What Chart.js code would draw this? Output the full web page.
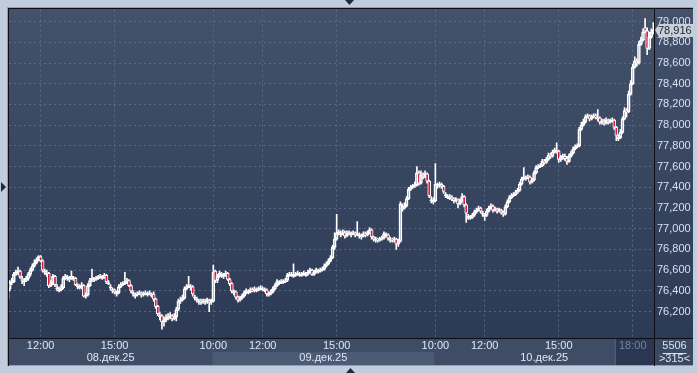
<!DOCTYPE html>
<html>
<head>
<meta charset="utf-8">
<script src="https://cdn.jsdelivr.net/npm/chart.js@4.4.1/dist/chart.umd.min.js"></script>
<style>
  html, body { margin: 0; padding: 0; background: #c1cddc; }
  #wrap { position: relative; width: 697px; height: 373px; }
</style>
</head>
<body>
<div id="wrap"><canvas id="chart" width="697" height="373"></canvas></div>
<script>
// 5-minute candles, 08-10 Dec 2025
const opens = [
  76320,76420,76480,76490,76560,76580,76590,76500,76490,76500,
  76520,76560,76600,76640,76670,76700,76730,76690,76580,76560,
  76570,76450,76470,76540,76420,76400,76410,76430,76520,76520,
  76510,76520,76510,76520,76440,76430,76440,76450,76350,76360,
  76450,76500,76500,76510,76520,76530,76520,76530,76550,76470,
  76430,76400,76410,76370,76380,76440,76460,76470,76480,76500,
  76450,76370,76350,76360,76370,76380,76360,76370,76360,76370,
  76350,76370,76320,76250,76150,76160,76100,76120,76140,76150,
  76160,76130,76150,76220,76300,76310,76330,76420,76440,76430,
  76440,76330,76310,76290,76300,76290,76290,76300,76310,76290,
  76300,76590,76500,76540,76550,76540,76550,76570,76510,76470,
  76380,76390,76340,76310,76330,76350,76380,76380,76390,76410,
  76400,76400,76410,76420,76410,76400,76410,76360,76370,76390,
  76420,76450,76470,76480,76480,76490,76500,76550,76550,76540,
  76550,76560,76550,76550,76560,76550,76560,76580,76600,76560,
  76580,76580,76590,76600,76610,76640,76660,76690,76720,76820,
  76900,76960,76940,76950,76960,76930,76950,76940,76950,76960,
  76940,76930,76920,76930,76950,76940,76960,76990,76920,76890,
  76900,76890,76900,76910,76930,76940,76890,76900,76890,76900,
  76850,76880,77190,77200,77220,77290,77380,77400,77410,77420,
  77540,77440,77520,77500,77530,77460,77270,77260,77270,77410,
  77420,77430,77410,77320,77300,77290,77300,77290,77270,77280,
  77240,77270,77310,77230,77110,77100,77110,77130,77160,77180,
  77200,77140,77120,77130,77170,77200,77220,77180,77190,77170,
  77180,77160,77140,77210,77260,77300,77320,77330,77350,77370,
  77430,77480,77480,77490,77500,77450,77470,77540,77590,77600,
  77610,77650,77640,77670,77710,77700,77740,77740,77750,77670,
  77690,77700,77680,77650,77700,77730,77770,77790,77800,77960,
  78000,78030,78080,78090,78060,78080,78090,78060,78070,78030,
  78040,78020,78050,78030,78040,78050,77980,77870,77880,77930,
  78060,78140,78130,78300,78400,78560,78620,78600,78780,78820,
  78940,78910,78740,78850,78900
];
const highs = [
  76440,76500,76520,76580,76600,76630,76600,76540,76520,76540,
  76580,76620,76660,76700,76720,76740,76740,76700,76610,76600,
  76580,76500,76560,76550,76460,76440,76460,76540,76560,76550,
  76540,76590,76540,76530,76470,76460,76480,76460,76380,76470,
  76520,76610,76530,76540,76550,76560,76550,76570,76560,76500,
  76460,76430,76420,76400,76460,76480,76490,76580,76520,76510,
  76460,76400,76380,76390,76400,76390,76390,76400,76390,76400,
  76380,76390,76330,76260,76190,76170,76150,76170,76180,76190,
  76170,76180,76240,76320,76340,76360,76440,76460,76540,76460,
  76450,76360,76340,76320,76320,76320,76320,76330,76320,76320,
  76650,76600,76560,76590,76580,76570,76590,76580,76520,76480,
  76410,76400,76350,76350,76370,76400,76420,76410,76430,76430,
  76440,76430,76440,76450,76440,76430,76420,76390,76410,76440,
  76470,76510,76500,76510,76510,76520,76570,76580,76580,76660,
  76580,76590,76580,76580,76590,76580,76600,76620,76610,76600,
  76620,76610,76620,76630,76660,76680,76710,76740,76840,76960,
  77140,76990,76980,76990,76980,76980,76980,76970,76980,76970,
  77070,76960,76950,76970,76970,76980,77010,77000,76930,76920,
  76910,76920,76930,76970,76960,76950,76920,76910,76920,76910,
  76900,77260,77240,77250,77310,77400,77420,77430,77450,77600,
  77560,77560,77540,77560,77540,77470,77310,77300,77630,77440,
  77450,77440,77420,77350,77330,77330,77320,77300,77300,77290,
  77290,77340,77320,77240,77140,77130,77150,77180,77200,77220,
  77210,77170,77150,77190,77220,77240,77230,77210,77200,77200,
  77190,77170,77230,77280,77320,77340,77350,77370,77390,77450,
  77500,77590,77510,77520,77510,77490,77560,77610,77620,77630,
  77670,77670,77690,77730,77730,77760,77780,77830,77760,77710,
  77720,77720,77700,77720,77750,77790,77810,77820,77980,78030,
  78060,78100,78110,78100,78100,78110,78110,78150,78080,78060,
  78060,78070,78060,78060,78070,78060,77990,77910,77960,78080,
  78170,78160,78330,78430,78590,78660,78640,78810,78850,78930,
  79030,78940,78900,78930,78990
];
const lows = [
  76290,76400,76460,76480,76550,76560,76520,76470,76450,76490,
  76500,76540,76590,76630,76660,76690,76680,76580,76560,76540,
  76430,76440,76460,76440,76400,76390,76400,76420,76510,76500,
  76490,76510,76500,76450,76420,76420,76420,76340,76330,76350,
  76440,76490,76490,76500,76510,76520,76510,76520,76470,76460,
  76410,76380,76370,76350,76370,76430,76450,76460,76470,76440,
  76380,76350,76330,76350,76360,76340,76350,76360,76350,76360,
  76340,76300,76230,76160,76120,76030,76060,76100,76120,76130,
  76110,76120,76110,76210,76280,76300,76320,76410,76430,76410,
  76350,76310,76290,76270,76270,76280,76270,76280,76200,76270,
  76290,76480,76480,76530,76530,76520,76540,76500,76450,76380,
  76360,76320,76290,76300,76320,76340,76370,76370,76380,76390,
  76390,76390,76400,76410,76400,76390,76350,76350,76360,76380,
  76410,76440,76460,76470,76470,76480,76490,76540,76540,76530,
  76540,76550,76540,76540,76550,76540,76550,76570,76550,76550,
  76570,76570,76580,76590,76600,76630,76650,76680,76710,76800,
  76890,76940,76920,76940,76910,76920,76940,76920,76940,76920,
  76930,76910,76900,76920,76920,76930,76950,76900,76880,76870,
  76870,76880,76890,76900,76920,76890,76870,76870,76870,76800,
  76830,76870,77170,77190,77210,77280,77370,77390,77400,77410,
  77420,77430,77480,77490,77440,77300,77250,77240,77260,77390,
  77400,77390,77340,77300,77290,77280,77270,77250,77260,77200,
  77230,77260,77210,77060,77090,77090,77100,77120,77150,77170,
  77150,77120,77080,77120,77160,77190,77160,77170,77150,77160,
  77140,77120,77130,77200,77250,77290,77310,77320,77340,77360,
  77420,77470,77470,77480,77430,77440,77460,77530,77580,77590,
  77600,77620,77630,77660,77680,77690,77730,77730,77640,77650,
  77670,77660,77620,77640,77690,77720,77760,77780,77790,77950,
  77990,78020,78070,78040,78050,78070,78060,78040,78010,78010,
  78000,78010,78010,78020,78030,77960,77850,77850,77870,77920,
  78050,78080,78120,78290,78390,78550,78570,78590,78770,78810,
  78890,78680,78730,78840,78880
];
const closes = [
  76420,76480,76490,76560,76580,76590,76540,76510,76500,76520,
  76560,76600,76640,76670,76700,76730,76690,76600,76590,76570,
  76450,76470,76540,76460,76430,76410,76430,76520,76540,76530,
  76520,76540,76520,76460,76450,76440,76450,76350,76360,76450,
  76500,76520,76510,76520,76530,76540,76530,76550,76490,76480,
  76440,76410,76390,76380,76440,76460,76470,76480,76500,76450,
  76400,76380,76360,76370,76380,76360,76370,76380,76370,76380,
  76360,76320,76250,76180,76160,76100,76120,76140,76150,76160,
  76130,76150,76220,76300,76310,76330,76420,76440,76450,76440,
  76370,76340,76320,76300,76290,76300,76300,76310,76290,76300,
  76580,76500,76540,76570,76560,76550,76570,76510,76470,76400,
  76390,76340,76310,76330,76350,76380,76400,76390,76410,76400,
  76420,76410,76420,76430,76420,76410,76370,76370,76390,76420,
  76450,76490,76480,76490,76490,76500,76550,76560,76560,76550,
  76560,76570,76560,76560,76570,76560,76580,76600,76560,76580,
  76600,76590,76600,76610,76640,76660,76690,76720,76820,76900,
  76960,76970,76950,76960,76930,76950,76960,76950,76960,76940,
  76950,76940,76930,76950,76940,76960,76990,76920,76900,76900,
  76890,76900,76910,76950,76940,76910,76900,76890,76900,76850,
  76880,77240,77200,77220,77290,77380,77400,77410,77420,77540,
  77440,77520,77500,77530,77460,77320,77280,77270,77430,77420,
  77430,77410,77360,77330,77310,77300,77290,77270,77280,77240,
  77270,77310,77230,77150,77120,77110,77130,77160,77180,77200,
  77170,77150,77130,77170,77200,77220,77180,77190,77170,77180,
  77160,77140,77210,77260,77300,77320,77330,77350,77370,77430,
  77480,77500,77490,77500,77450,77470,77540,77590,77600,77610,
  77650,77640,77670,77710,77700,77740,77760,77750,77670,77690,
  77700,77680,77650,77700,77730,77770,77790,77800,77960,78000,
  78030,78080,78090,78060,78080,78090,78080,78070,78030,78040,
  78020,78050,78030,78040,78050,77980,77900,77880,77930,78060,
  78140,78130,78300,78400,78560,78620,78600,78780,78820,78900,
  78910,78740,78850,78900,78916
];

// axis labels
const priceTicks = [76200,76400,76600,76800,77000,77200,77400,77600,77800,78000,78200,78400,78600,78800,79000];
const timeTickIdx = [16, 52, 100, 124, 160, 208, 232, 268, 304];
const timeTickLabels = ["12:00","15:00","10:00","12:00","15:00","10:00","12:00","15:00","18:00"];
const dayStartIdx = [0, 100, 208];
const dayLabels = ["08.дек.25", "09.дек.25", "10.дек.25"];
const totalBars = "5506";
const shownBars = ">315<";

const FONT = "Arial, 'Liberation Sans', sans-serif";
const RED = "#d81c44";
const GRID = "rgba(96,114,145,0.8)";

const isDown = (i) => closes[i] < opens[i];
const fmt = (v) => v.toLocaleString("en-US");

// datasets
const bodyData = closes.map((c, i) => ({ x: i, y: [opens[i], c] }));
const upperWick = closes.map((c, i) => ({ x: i, y: [Math.max(opens[i], c), highs[i]] }));
const lowerWick = closes.map((c, i) => ({ x: i, y: [lows[i], Math.min(opens[i], c)] }));

const frame = {
  id: "frame",
  beforeDraw(chart) {
    const { ctx, chartArea: a, scales } = chart;
    const W = chart.width, H = chart.height;
    ctx.save();
    ctx.fillStyle = "#c1cddc";
    ctx.fillRect(0, 0, W, H);
    // outer panel
    ctx.fillStyle = "#8f9fb5";
    ctx.fillRect(7, 7, 686, 359);
    // plot gradient
    const g = ctx.createLinearGradient(0, a.top, 0, a.bottom);
    g.addColorStop(0, "#435169");
    g.addColorStop(1, "#2d3a56");
    ctx.fillStyle = g;
    ctx.fillRect(8, 8, 685, a.bottom - 8);
    // bottom axis band
    ctx.fillStyle = "#3e4c66";
    ctx.fillRect(8, a.bottom, 685, 365 - a.bottom);
    // second day highlighted in date row
    const x = scales.x;
    const d0 = x.getPixelForValue(dayStartIdx[1] - 0.5);
    const d1 = x.getPixelForValue(dayStartIdx[2] - 0.5);
    ctx.fillStyle = "#4b5a75";
    ctx.fillRect(d0, a.bottom + 14, d1 - d0, 365 - a.bottom - 14);
    // current hour box
    const hx = x.getPixelForValue(timeTickIdx[timeTickIdx.length - 1]);
    ctx.fillStyle = "#2b3752";
    ctx.fillRect(hx - 17, a.bottom + 1, a.right - hx + 17, 365 - a.bottom - 1);
    ctx.fillStyle = "#55637b";
    ctx.fillRect(hx - 18, a.bottom + 1, 1, 365 - a.bottom - 1);
    // right corner box
    ctx.fillStyle = "#3a4862";
    ctx.fillRect(a.right, a.bottom, 693 - a.right, 365 - a.bottom);
    ctx.restore();
  },
  afterDraw(chart) {
    const { ctx, chartArea: a, scales } = chart;
    ctx.save();
    // separators
    ctx.fillStyle = "#0d0f14";
    ctx.fillRect(8, 8, 685, 1);
    ctx.fillRect(8, 8, 1, 358);
    ctx.fillRect(8, a.bottom, 685, 1);
    ctx.fillRect(a.right, 8, 1, 358);
    // last price tag
    const last = closes[closes.length - 1];
    const py = Math.round(scales.y.getPixelForValue(last));
    ctx.fillStyle = "#c9d0da";
    ctx.beginPath();
    ctx.moveTo(a.right + 1, py);
    ctx.lineTo(a.right + 5, py - 6);
    ctx.lineTo(693, py - 6);
    ctx.lineTo(693, py + 7);
    ctx.lineTo(a.right + 5, py + 7);
    ctx.closePath();
    ctx.fill();
    ctx.fillStyle = "#1b2233";
    ctx.font = "11px " + FONT;
    ctx.textAlign = "left";
    ctx.textBaseline = "middle";
    ctx.fillText(fmt(last), a.right + 4, py + 1);
    // bar counters
    ctx.fillStyle = "#dbe4f0";
    ctx.textAlign = "center";
    const cx = (a.right + 693) / 2 + 1;
    ctx.fillText(totalBars, cx, a.bottom + 8);
    ctx.fillRect(cx - 12, a.bottom + 15, 24, 1);
    ctx.fillText(shownBars, cx, a.bottom + 21);
    // scroll markers
    ctx.fillStyle = "#1f2a3d";
    ctx.beginPath();
    ctx.moveTo(345, 0); ctx.lineTo(354, 0); ctx.lineTo(349.5, 5); ctx.closePath(); ctx.fill();
    ctx.beginPath();
    ctx.moveTo(346, 373); ctx.lineTo(355, 373); ctx.lineTo(350.5, 368); ctx.closePath(); ctx.fill();
    ctx.beginPath();
    ctx.moveTo(1, 182); ctx.lineTo(6, 187); ctx.lineTo(1, 192); ctx.closePath(); ctx.fill();
    ctx.restore();
  },
};

new Chart(document.getElementById("chart"), {
  type: "bar",
  data: {
    datasets: [
      {
        label: "body",
        data: bodyData,
        backgroundColor: bodyData.map((_, i) => (isDown(i) ? RED : "rgba(0,0,0,0)")),
        borderColor: "#ffffff",
        borderWidth: 1,
        borderSkipped: false,
        barThickness: 3,
        grouped: false,
        order: 0,
      },
      {
        label: "upper",
        data: upperWick,
        backgroundColor: "#ffffff",
        barThickness: 1,
        grouped: false,
        order: 1,
      },
      {
        label: "lower",
        data: lowerWick,
        backgroundColor: "#ffffff",
        barThickness: 1,
        grouped: false,
        order: 1,
      },
    ],
  },
  options: {
    responsive: false,
    devicePixelRatio: 1,
    animation: false,
    layout: { padding: { left: 9, top: 9, right: 5, bottom: 8 } },
    plugins: { legend: { display: false }, tooltip: { enabled: false } },
    scales: {
      x: {
        type: "linear",
        position: "bottom",
        weight: 0,
        min: 0.63,
        max: 314.33,
        offset: false,
        afterBuildTicks: (s) => { s.ticks = timeTickIdx.map((v) => ({ value: v })); },
        afterFit: (s) => { s.height = 13; },
        grid: { color: GRID, lineWidth: 1, drawTicks: false, offset: false },
        border: { display: false, dash: [2, 3] },
        ticks: {
          padding: 1,
          maxRotation: 0,
          autoSkip: false,
          font: { size: 11, family: FONT },
          color: (c) => (c.index === timeTickIdx.length - 1 ? "#76849b" : "#dfe7f2"),
          callback: (v, i) => timeTickLabels[i],
        },
      },
      x2: {
        type: "linear",
        position: "bottom",
        weight: 1,
        min: 0.63,
        max: 314.33,
        offset: false,
        afterBuildTicks: (s) => {
          s.ticks = dayStartIdx.map((st, k) => {
            const a = Math.max(st - 0.5, s.min);
            const b = k + 1 < dayStartIdx.length ? dayStartIdx[k + 1] - 0.5 : s.max;
            return { value: (a + b) / 2 };
          });
        },
        afterFit: (s) => { s.height = 14; },
        grid: { display: false, drawTicks: false },
        border: { display: false },
        ticks: {
          padding: 0,
          maxRotation: 0,
          autoSkip: false,
          font: { size: 11, family: FONT },
          color: "#dfe7f2",
          callback: (v, i) => dayLabels[i],
        },
      },
      y: {
        position: "right",
        min: 75945,
        max: 79116,
        afterBuildTicks: (s) => { s.ticks = priceTicks.map((v) => ({ value: v })); },
        afterFit: (s) => { s.width = 38; },
        grid: { color: GRID, lineWidth: 1, drawTicks: false },
        border: { display: false, dash: [2, 3] },
        ticks: {
          padding: 3,
          font: { size: 11, family: FONT },
          color: "#d6e1ef",
          callback: (v) => fmt(v),
        },
      },
    },
  },
  plugins: [frame],
});
</script>
</body>
</html>
